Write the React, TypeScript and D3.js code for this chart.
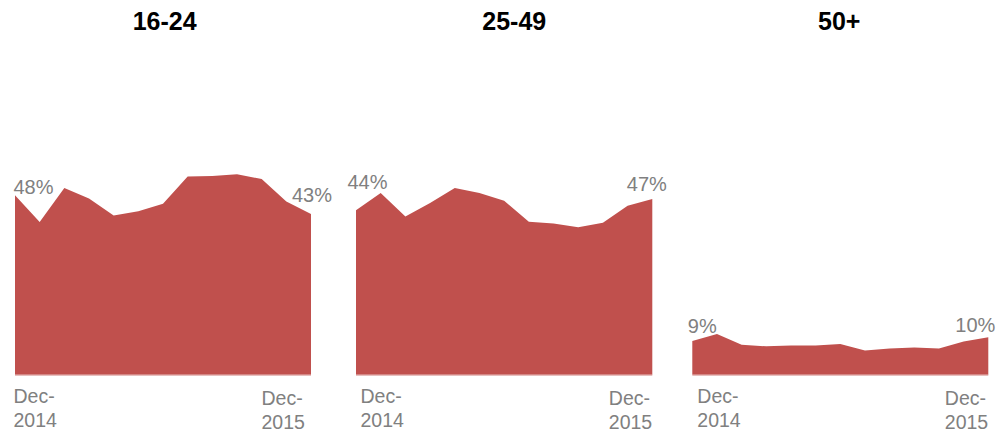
import React from "react";
import * as d3 from "d3";

const months = [
  "Dec-2014", "Jan-2015", "Feb-2015", "Mar-2015", "Apr-2015", "May-2015", "Jun-2015",
  "Jul-2015", "Aug-2015", "Sep-2015", "Oct-2015", "Nov-2015", "Dec-2015",
];

const groups = ["16-24", "25-49", "50+"];

const values1624 = [48, 40.8, 49.9, 47.1, 42.6, 43.7, 45.7, 53.0, 53.1, 53.6, 52.3, 46.3, 43];
const values2549 = [44, 48.6, 42.3, 45.9, 49.9, 48.6, 46.5, 40.9, 40.4, 39.4, 40.6, 45.2, 47];
const values50 = [9, 10.9, 8.0, 7.6, 7.8, 7.8, 8.2, 6.5, 7.0, 7.3, 7.0, 8.9, 10];

const series = [values1624, values2549, values50];

const firstLabel = ["Dec-", "2014"];
const lastLabel = ["Dec-", "2015"];

// layout (pixels), not data
const W = 997;
const H = 429;
const panelX: [number, number][] = [
  [15, 311],
  [356, 652.3],
  [692.3, 988.3],
];
const titleCenters = [164.7, 514.3, 839.2];
const baseY = 374.7;
const pxPerPct = 3.74;
const yMax = 60;
// value label offsets [dx, dy] from point: first (anchor start), last (anchor end)
const firstLblOff: [number, number][] = [[-1.5, -1], [-8.5, -21], [-4.5, -7.7]];
const lastLblOff: [number, number][] = [[21, -12], [14.5, -8], [7, -5.4]];
// axis label offsets from first / last point x
const axisFirstOff = [-1.5, 4.5, 5];
const axisLastOff = [-49.5, -43.5, -43.5];

const FILL = "#C0504D";
const GRAY = "#808080";

export default function App() {
  const y = d3
    .scaleLinear()
    .domain([0, yMax])
    .range([baseY, baseY - yMax * pxPerPct]);

  return (
    <svg
      width={W}
      height={H}
      style={{ position: "absolute", left: 0, top: 0, background: "#fff" }}
      fontFamily="'Liberation Sans', Arial, sans-serif"
    >
      {series.map((vals, i) => {
        const x = d3
          .scalePoint<string>()
          .domain(months)
          .range(panelX[i]);
        const area = d3
          .area<number>()
          .x((_, j) => x(months[j]) as number)
          .y0(y(0))
          .y1((d) => y(d));
        const n = vals.length;
        const x0 = x(months[0]) as number;
        const xN = x(months[n - 1]) as number;
        return (
          <g key={groups[i]}>
            <text
              x={titleCenters[i]}
              y={30}
              textAnchor="middle"
              fontWeight="bold"
              fontSize={25}
              fill="#000"
            >
              {groups[i]}
            </text>
            <path d={area(vals) || ""} fill={FILL} />
            <line
              x1={x0}
              x2={xN}
              y1={y(0) + 0.5}
              y2={y(0) + 0.5}
              stroke="#dda3a1"
              strokeWidth={1}
            />
            <text
              x={x0 + firstLblOff[i][0]}
              y={y(vals[0]) + firstLblOff[i][1]}
              textAnchor="start"
              fontSize={20}
              fill={GRAY}
            >
              {`${Math.round(vals[0])}%`}
            </text>
            <text
              x={xN + lastLblOff[i][0]}
              y={y(vals[n - 1]) + lastLblOff[i][1]}
              textAnchor="end"
              fontSize={20}
              fill={GRAY}
            >
              {`${Math.round(vals[n - 1])}%`}
            </text>
            <text x={x0 + axisFirstOff[i]} y={403} fontSize={19.5} fill={GRAY}>
              <tspan x={x0 + axisFirstOff[i]}>{firstLabel[0]}</tspan>
              <tspan x={x0 + axisFirstOff[i]} dy={24}>{firstLabel[1]}</tspan>
            </text>
            <text x={xN + axisLastOff[i]} y={405} fontSize={19.5} fill={GRAY}>
              <tspan x={xN + axisLastOff[i]}>{lastLabel[0]}</tspan>
              <tspan x={xN + axisLastOff[i]} dy={24}>{lastLabel[1]}</tspan>
            </text>
          </g>
        );
      })}
    </svg>
  );
}
